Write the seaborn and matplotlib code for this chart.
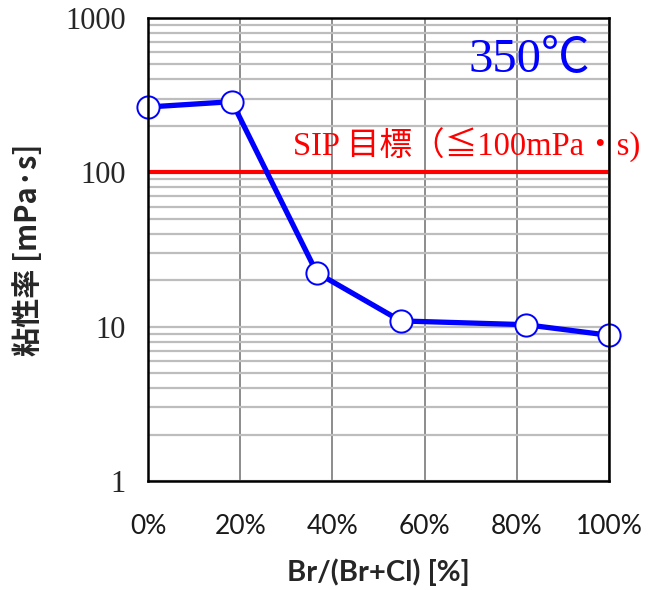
import matplotlib
matplotlib.use("Agg")
import matplotlib.pyplot as plt
import matplotlib.ticker as mticker
import numpy as np
import pandas as pd
import seaborn as sns

# Bromine fraction Br/(Br+Cl) in percent and melt viscosity at 350 °C
br_fraction = [0, 18.2, 36.6, 54.8, 82.0, 100]
viscosity = [265, 287, 22.4, 10.9, 10.3, 8.8]
x_ticks = [0, 20, 40, 60, 80, 100]
x_tick_labels = ["0%", "20%", "40%", "60%", "80%", "100%"]
y_ticks = [1, 10, 100, 1000]
y_tick_labels = ["1", "10", "100", "1000"]
target_value = 100

df = pd.DataFrame({"br": br_fraction, "visc": viscosity})

sns.set_theme(style="white")
plt.rcParams["font.family"] = ["Liberation Serif", "Noto Sans CJK JP", "DejaVu Sans"]

fig = plt.figure(figsize=(6.48, 5.90), dpi=100)
ax = fig.add_axes([0.2284, 0.1847, 0.9398 - 0.2284, 0.9695 - 0.1847])

ax.set_yscale("log")
ax.set_ylim(1, 1000)
ax.set_xlim(0, 100)

# grid: light horizontal minor lines, darker vertical lines
ax.yaxis.set_minor_locator(mticker.LogLocator(base=10, subs=np.arange(2, 10)))
ax.grid(which="minor", axis="y", color="#bdbdbd", linewidth=1.6, zorder=0)
ax.grid(which="major", axis="y", color="#bdbdbd", linewidth=1.6, zorder=0)
ax.grid(which="major", axis="x", color="#8c8c8c", linewidth=1.4, zorder=0)

# target line
ax.axhline(target_value, color="#ff0000", linewidth=3.0, zorder=2)

sns.lineplot(data=df, x="br", y="visc", ax=ax, color="#0000ff", linewidth=3.8,
             marker="o", markersize=16, markerfacecolor="white",
             markeredgecolor="#0000ff", markeredgewidth=1.4, zorder=3,
             clip_on=False)

ax.set_xticks(x_ticks)
ax.set_xticklabels(x_tick_labels, fontfamily="Lato", fontsize=19, color="#1a1a1a")
ax.set_yticks(y_ticks)
ax.set_yticklabels(y_tick_labels, fontfamily="Liberation Serif", fontsize=22)
ax.yaxis.set_minor_formatter(mticker.NullFormatter())

ax.tick_params(axis="x", length=0, pad=24)
ax.tick_params(axis="y", which="major", direction="in", length=8, width=1.4, pad=16)
ax.tick_params(axis="y", which="minor", direction="in", length=7, width=1.4)

for s in ax.spines.values():
    s.set_color("black")
    s.set_linewidth(1.8)
    s.set_zorder(4)

ax.set_xlabel("Br/(Br+Cl) [%]", fontfamily="Lato", fontweight="bold", fontsize=21, labelpad=14)
ax.set_ylabel("粘性率 [mPa·s]", fontfamily=["Noto Sans CJK JP"], fontweight="bold",
              fontsize=21, labelpad=16)

ax.text(0.958, 0.862, "350℃", transform=ax.transAxes, ha="right", va="bottom",
        color="#0000ff", fontsize=35, family=["Liberation Serif", "Noto Sans CJK JP"])
ax.text(1.068, 0.686, "SIP 目標（≦100mPa・s)", transform=ax.transAxes, ha="right",
        va="bottom", color="#ff0000", fontsize=23.5,
        family=["Liberation Serif", "Noto Sans CJK JP"], clip_on=False)

fig.savefig("out.png", dpi=100)
